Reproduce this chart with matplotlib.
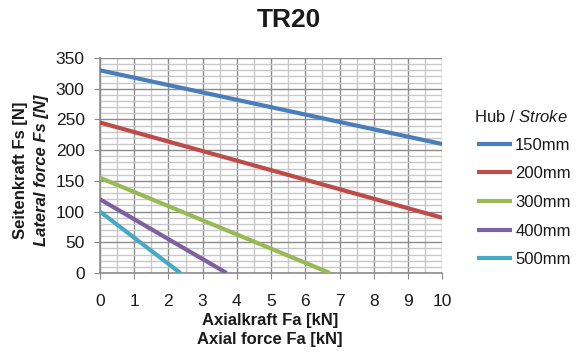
import matplotlib
matplotlib.use("Agg")
import matplotlib.pyplot as plt
from matplotlib.ticker import MultipleLocator

plt.rcParams['font.family'] = ['Liberation Sans', 'DejaVu Sans']
plt.rcParams['mathtext.fontset'] = 'custom'
plt.rcParams['mathtext.rm'] = 'Liberation Sans'
plt.rcParams['mathtext.it'] = 'Liberation Sans:italic'

labels = ["150mm", "200mm", "300mm", "400mm", "500mm"]
colors = ["#4a7ebb", "#be4b48", "#98b954", "#7d60a0", "#46aac5"]
x_vals = [[0, 10], [0, 10], [0, 6.72], [0, 3.7], [0, 2.35]]
y_vals = [[330, 210], [245, 90], [155, 0], [120, 0], [100, 0]]

fig = plt.figure(figsize=(5.78, 3.53), dpi=100)
ax = fig.add_axes([0.173, 0.2266, 0.592, 0.609])

for xs, ys, c, l in zip(x_vals, y_vals, colors, labels):
    ax.plot(xs, ys, color=c, lw=3, label=l, solid_capstyle='butt', zorder=3)

ax.set_xlim(0, 10)
ax.set_ylim(0, 350)
ax.xaxis.set_major_locator(MultipleLocator(1))
ax.xaxis.set_minor_locator(MultipleLocator(0.5))
ax.yaxis.set_major_locator(MultipleLocator(50))
ax.yaxis.set_minor_locator(MultipleLocator(10))
ax.grid(which='major', color='#8c8c8c', lw=1.0, zorder=0)
ax.grid(which='minor', color='#c8c8c8', lw=1.0, zorder=0)
ax.tick_params(which='minor', length=0)
ax.tick_params(which='major', length=4, color='#8c8c8c', labelsize=12.5, labelcolor='#1a1a1a')
ax.tick_params(axis='x', pad=11)
ax.tick_params(axis='y', pad=7)
for s in ['top', 'right']:
    ax.spines[s].set_visible(False)
for s in ['left', 'bottom']:
    ax.spines[s].set_color('#8c8c8c')
    ax.spines[s].set_linewidth(1.2)

fig.text(0.5, 0.943, "TR20", ha='center', va='center', fontsize=19, fontweight='bold', color='#1a1a1a')

fig.text(0.467, 0.093, "Axialkraft Fa [kN]", ha='center', va='center', fontsize=12, fontweight='bold', color='#1a1a1a')
fig.text(0.467, 0.037, "Axial force Fa [kN]", ha='center', va='center', fontsize=12, fontweight='bold', color='#1a1a1a')

fig.text(0.036, 0.518, "Seitenkraft Fs [N]", ha='center', va='center', rotation=90, fontsize=12, fontweight='bold', color='#1a1a1a')
fig.text(0.072, 0.518, "Lateral force Fs [N]", ha='center', va='center', rotation=90, fontsize=12, fontweight='bold', style='italic', color='#1a1a1a')

leg = fig.legend(loc='upper left', bbox_to_anchor=(0.814, 0.629), frameon=False,
                 fontsize=12, handlelength=2.1, handletextpad=0.18, labelspacing=0.82,
                 borderaxespad=0)
for t in leg.get_texts():
    t.set_color('#1a1a1a')
fig.text(0.82, 0.669, r"Hub / $\mathit{Stroke}$", ha='left', va='center', fontsize=12, color='#1a1a1a')

fig.savefig("out.png", dpi=100)
